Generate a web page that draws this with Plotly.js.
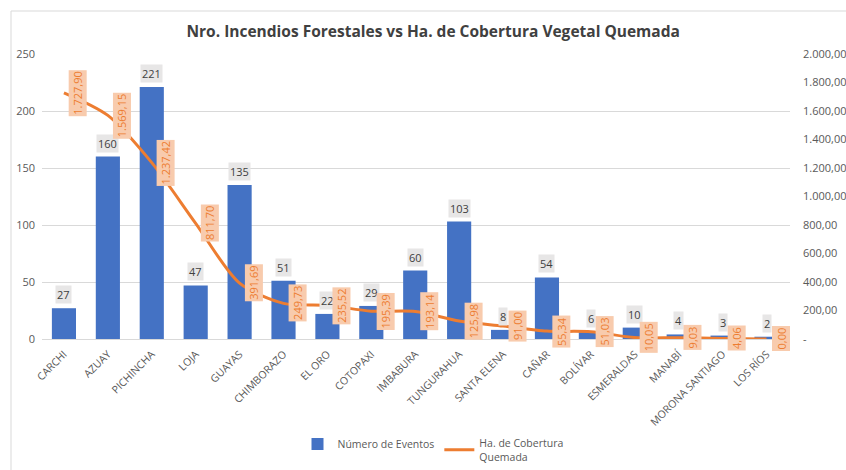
<!DOCTYPE html>
<html>
<head>
<meta charset="utf-8">
<script src="https://cdn.plot.ly/plotly-3.0.1.min.js"></script>
<style>html,body{margin:0;padding:0;background:#fff;}#chart{width:846px;height:470px;}</style>
</head>
<body>
<div id="chart"></div>
<script>
const provincias = ["CARCHI","AZUAY","PICHINCHA","LOJA","GUAYAS","CHIMBORAZO","EL ORO","COTOPAXI","IMBABURA","TUNGURAHUA","SANTA ELENA","CAÑAR","BOLÍVAR","ESMERALDAS","MANABÍ","MORONA SANTIAGO","LOS RÍOS"];
const eventos = [27,160,221,47,135,51,22,29,60,103,8,54,6,10,4,3,2];
const hectareas = [1727.90,1569.15,1237.42,811.70,391.69,249.73,235.52,195.39,193.14,125.98,91.00,55.34,51.03,10.05,9.03,4.06,0.00];
const leftTicks = [0,50,100,150,200,250];
const rightTickVals = [0,200,400,600,800,1000,1200,1400,1600,1800,2000];
const rightTickText = ["-","200,00","400,00","600,00","800,00","1.000,00","1.200,00","1.400,00","1.600,00","1.800,00","2.000,00"];

function fmt(v){
  const parts = v.toFixed(2).split(".");
  parts[0] = parts[0].replace(/\B(?=(\d{3})+(?!\d))/g, ".");
  return parts[0] + "," + parts[1];
}

const FONT = "Open Sans, Liberation Sans, sans-serif";
const annotations = [];
provincias.forEach((p,i)=>{
  annotations.push({
    x:p, y:eventos[i], xref:"x", yref:"y", text:String(eventos[i]),
    showarrow:false, yanchor:"bottom", yshift:4,
    bgcolor:"#e7e6e6", borderpad:1,
    font:{family:FONT,size:11,color:"#404040"}
  });
  annotations.push({
    x:p, y:hectareas[i], xref:"x", yref:"y2", text:fmt(hectareas[i]),
    showarrow:false, textangle:-90, xshift:14,
    bgcolor:"#f8cbad", borderpad:1,
    font:{family:FONT,size:11,color:"#ed7d31"}
  });
});

const data = [
  {type:"bar", x:provincias, y:eventos, name:"Número de Eventos",
   marker:{color:"#4472c4"}, yaxis:"y"},
  {type:"scatter", mode:"lines", x:provincias, y:hectareas, name:"Ha. de Cobertura<br>Quemada",
   line:{color:"#ed7d31", width:3, shape:"spline", smoothing:0.8}, yaxis:"y2"}
];

const PT = 54, PB = 339, PL = 42, PR = 790;
const W = PR-PL, H = PB-PT;

const layout = {
  width:846, height:470,
  margin:{l:PL, r:846-PR, t:PT, b:470-PB, autoexpand:false},
  paper_bgcolor:"#ffffff", plot_bgcolor:"#ffffff",
  font:{family:FONT, color:"#595959"},
  title:{text:"<b>Nro. Incendios Forestales vs Ha. de Cobertura Vegetal Quemada</b>",
    font:{family:FONT,size:15.5,color:"#404040"}, x:0.512, xanchor:"center", y:1-32/470, yanchor:"middle"},
  bargap:0.45,
  xaxis:{type:"category", tickangle:-45, tickfont:{size:10.5,color:"#595959"}, ticklabelstandoff:4,
    showline:true, linecolor:"#d9d9d9", linewidth:1, showgrid:false, ticks:"", automargin:false},
  yaxis:{range:[0,250], tickvals:leftTicks, showgrid:true, gridcolor:"#d9d9d9",
    zeroline:false, showline:false, tickfont:{size:11,color:"#595959"}, ticklabelstandoff:6, automargin:false},
  yaxis2:{range:[0,2000], overlaying:"y", side:"right", tickvals:rightTickVals, ticktext:rightTickText,
    showgrid:false, zeroline:false, showline:false, tickfont:{size:11,color:"#595959"}, ticklabelstandoff:12, automargin:false},
  showlegend:true,
  legend:{orientation:"h", x:(433-PL)/W, xanchor:"center", y:(PB-450)/H, yanchor:"middle",
    font:{size:10.5,color:"#595959"}, traceorder:"normal"},
  annotations:annotations,
  shapes:[
    {type:"line", xref:"paper", yref:"paper", x0:(11-PL)/W, x1:(11-PL)/W, y0:(PB-11)/H, y1:(PB-470)/H,
     line:{color:"#d9d9d9", width:1}},
    {type:"line", xref:"paper", yref:"paper", x0:(11-PL)/W, x1:(846-PL)/W, y0:(PB-11)/H, y1:(PB-11)/H,
     line:{color:"#d9d9d9", width:1}}
  ]
};

Plotly.newPlot("chart", data, layout, {staticPlot:true, displayModeBar:false});
</script>
</body>
</html>
